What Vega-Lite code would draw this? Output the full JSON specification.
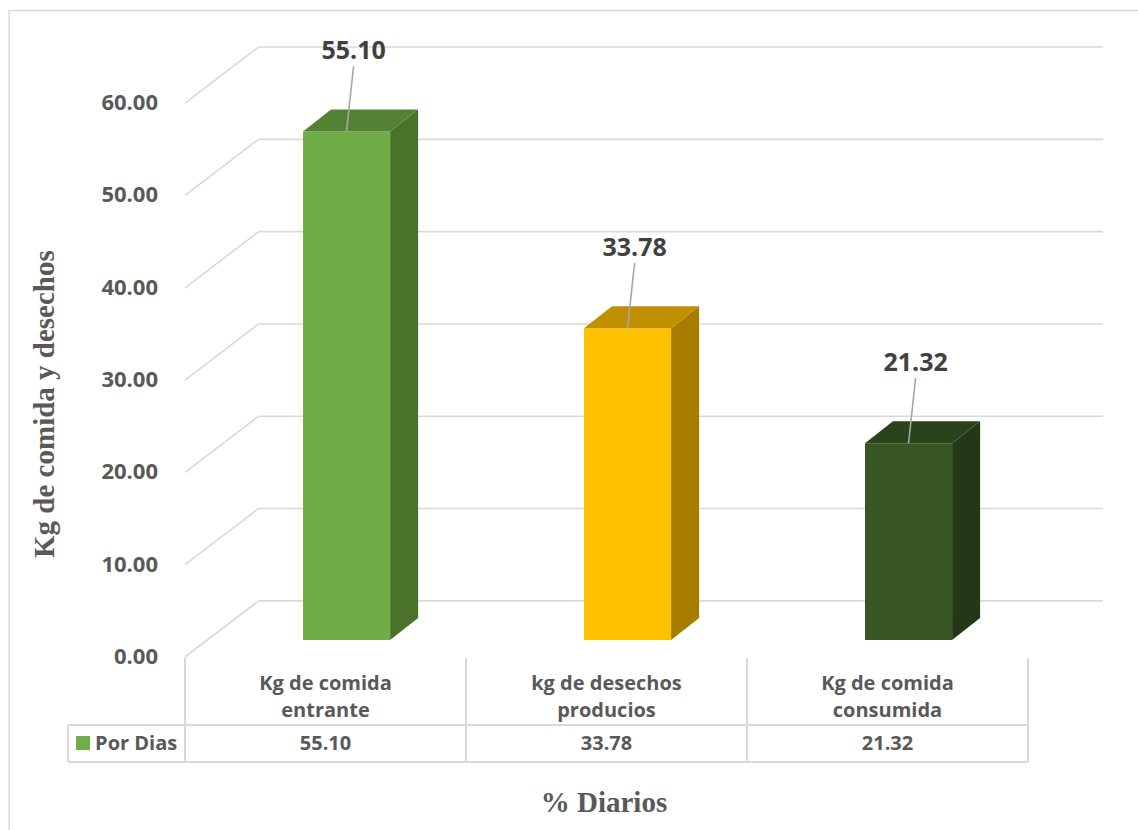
{
  "$schema": "https://vega.github.io/schema/vega-lite/v6.json",
  "width": 918,
  "height": 612,
  "autosize": {"type": "none"},
  "padding": {"left": 185, "top": 45, "right": 35, "bottom": 173},
  "background": "white",
  "config": {"view": {"stroke": null}, "font": "Open Sans", "axis": {"disable": true}},
  "datasets": {
    "por_dias": [
      {"categoria": "Kg de comida entrante", "etiqueta": "Kg de comida\nentrante", "kg": 55.10},
      {"categoria": "kg de desechos producios", "etiqueta": "kg de desechos\nproducios", "kg": 33.78},
      {"categoria": "Kg de comida consumida", "etiqueta": "Kg de comida\nconsumida", "kg": 21.32}
    ],
    "marcas_eje": [{"t": 0}, {"t": 10}, {"t": 20}, {"t": 30}, {"t": 40}, {"t": 50}, {"t": 60}],
    "serie": [{"nombre": "Por Dias"}],
    "titulos": [
      {"eje": "y", "texto": "Kg de comida y desechos"},
      {"eje": "x", "texto": "% Diarios"}
    ]
  },
  "resolve": {"scale": {"color": "independent"}},
  "layer": [
    {
      "description": "outer chart frame",
      "data": {"values": [{}]},
      "mark": {"type": "rule", "color": "#D9D9D9", "strokeWidth": 1.5},
      "encoding": {
        "x": {"datum": -0.626, "type": "quantitative", "scale": {"domain": [0, 3.267], "nice": false, "zero": false}},
        "y": {"datum": 70.04, "type": "quantitative", "scale": {"domain": [0, 66.3], "nice": false, "zero": false}},
        "y2": {"datum": -25}
      }
    },
    {
      "data": {"values": [{}]},
      "mark": {"type": "rule", "color": "#D9D9D9", "strokeWidth": 1.5},
      "encoding": {
        "x": {"datum": -0.626, "type": "quantitative"},
        "x2": {"datum": 3.8},
        "y": {"datum": 70.04, "type": "quantitative"}
      }
    },
    {
      "description": "side-wall grid: slanted segments from the front plane to the back wall",
      "data": {"name": "marcas_eje"},
      "transform": [{"calculate": "datum.t + 6.08", "as": "t_fondo"}],
      "mark": {"type": "rule", "color": "#D9D9D9", "strokeWidth": 1.6},
      "encoding": {
        "x": {"datum": 0, "type": "quantitative"},
        "x2": {"datum": 0.262},
        "y": {"field": "t", "type": "quantitative"},
        "y2": {"field": "t_fondo"}
      }
    },
    {
      "description": "back-wall grid",
      "data": {"name": "marcas_eje"},
      "transform": [{"calculate": "datum.t + 6.08", "as": "t_fondo"}],
      "mark": {"type": "rule", "color": "#D9D9D9", "strokeWidth": 1.6},
      "encoding": {
        "x": {"datum": 0.262, "type": "quantitative"},
        "x2": {"datum": 3.267},
        "y": {"field": "t_fondo", "type": "quantitative"}
      }
    },
    {
      "description": "value-axis tick labels on the front plane",
      "data": {"name": "marcas_eje"},
      "mark": {"type": "text", "font": "Open Sans", "fontWeight": "bold", "fontSize": 22, "color": "#595959", "align": "right", "baseline": "middle", "dx": -27},
      "encoding": {
        "x": {"datum": 0, "type": "quantitative"},
        "y": {"field": "t", "type": "quantitative"},
        "text": {"field": "t", "type": "quantitative", "format": ".2f"}
      }
    },
    {
      "description": "axis titles",
      "data": {"name": "titulos"},
      "transform": [
        {"calculate": "datum.eje === 'y' ? -0.498 : 1.491", "as": "tx"},
        {"calculate": "datum.eje === 'y' ? 27.4 : -15.82", "as": "ty"},
        {"calculate": "datum.eje === 'y' ? 270 : 0", "as": "giro"}
      ],
      "mark": {"type": "text", "font": "Liberation Serif", "fontWeight": "bold", "fontSize": 29, "color": "#595959", "align": "center", "baseline": "middle"},
      "encoding": {
        "x": {"field": "tx", "type": "quantitative"},
        "y": {"field": "ty", "type": "quantitative"},
        "angle": {"field": "giro", "type": "quantitative", "scale": null},
        "text": {"field": "texto"}
      }
    },
    {
      "description": "front face of each column",
      "data": {"name": "por_dias"},
      "transform": [
        {"window": [{"op": "row_number", "as": "n"}]},
        {"calculate": "datum.n - 1", "as": "i"},
        {"calculate": "datum.i + 0.42", "as": "x0"},
        {"calculate": "datum.i + 0.73", "as": "x1"},
        {"calculate": "datum.kg + 1.84", "as": "ytop"}
      ],
      "mark": {"type": "rect"},
      "encoding": {
        "x": {"field": "x0", "type": "quantitative"},
        "x2": {"field": "x1"},
        "y": {"field": "ytop", "type": "quantitative"},
        "y2": {"datum": 1.84},
        "color": {
          "field": "categoria", "type": "nominal", "legend": null,
          "scale": {
            "domain": ["Kg de comida entrante", "kg de desechos producios", "Kg de comida consumida"],
            "range": ["#70AD47", "#FFC000", "#375623"]
          }
        }
      }
    },
    {
      "description": "right side face of each column",
      "data": {"name": "por_dias"},
      "transform": [
        {"window": [{"op": "row_number", "as": "n"}]},
        {"calculate": "datum.n - 1", "as": "i"},
        {"calculate": "[0, 1]", "as": "k"},
        {"flatten": ["k"]},
        {"calculate": "datum.i + 0.73 + datum.k * 0.0996", "as": "sx"},
        {"calculate": "datum.kg + 1.84 + datum.k * 2.38", "as": "sy"},
        {"calculate": "1.84 + datum.k * 2.38", "as": "sy2"}
      ],
      "mark": {"type": "area", "orient": "vertical"},
      "encoding": {
        "x": {"field": "sx", "type": "quantitative"},
        "y": {"field": "sy", "type": "quantitative"},
        "y2": {"field": "sy2"},
        "detail": {"field": "categoria"},
        "color": {
          "field": "categoria", "type": "nominal", "legend": null,
          "scale": {
            "domain": ["Kg de comida entrante", "kg de desechos producios", "Kg de comida consumida"],
            "range": ["#4A7229", "#A67D00", "#243818"]
          }
        }
      }
    },
    {
      "description": "top face of each column",
      "data": {"name": "por_dias"},
      "transform": [
        {"window": [{"op": "row_number", "as": "n"}]},
        {"calculate": "datum.n - 1", "as": "i"},
        {"calculate": "[0, 1]", "as": "k"},
        {"flatten": ["k"]},
        {"calculate": "datum.i + 0.42 + datum.k * 0.0996", "as": "tx0"},
        {"calculate": "datum.i + 0.73 + datum.k * 0.0996", "as": "tx1"},
        {"calculate": "datum.kg + 1.84 + datum.k * 2.38", "as": "ty"}
      ],
      "mark": {"type": "area", "orient": "horizontal"},
      "encoding": {
        "y": {"field": "ty", "type": "quantitative"},
        "x": {"field": "tx0", "type": "quantitative"},
        "x2": {"field": "tx1"},
        "detail": {"field": "categoria"},
        "color": {
          "field": "categoria", "type": "nominal", "legend": null,
          "scale": {
            "domain": ["Kg de comida entrante", "kg de desechos producios", "Kg de comida consumida"],
            "range": ["#548235", "#C09000", "#2B431B"]
          }
        }
      }
    },
    {
      "description": "leader lines from column tops to the value labels",
      "data": {"name": "por_dias"},
      "transform": [
        {"window": [{"op": "row_number", "as": "n"}]},
        {"calculate": "datum.n - 1", "as": "i"},
        {"calculate": "datum.i + 0.575", "as": "lx0"},
        {"calculate": "datum.i + 0.6", "as": "lx1"},
        {"calculate": "datum.kg + 1.84", "as": "ly0"},
        {"calculate": "datum.kg + 8.9", "as": "ly1"}
      ],
      "mark": {"type": "rule", "color": "#A6A6A6", "strokeWidth": 1.6},
      "encoding": {
        "x": {"field": "lx0", "type": "quantitative"},
        "x2": {"field": "lx1"},
        "y": {"field": "ly0", "type": "quantitative"},
        "y2": {"field": "ly1"}
      }
    },
    {
      "description": "value labels above the columns",
      "data": {"name": "por_dias"},
      "transform": [
        {"window": [{"op": "row_number", "as": "n"}]},
        {"calculate": "datum.n - 1 + 0.6", "as": "px"},
        {"calculate": "datum.kg + 10.5", "as": "py"}
      ],
      "mark": {"type": "text", "font": "Open Sans", "fontWeight": "bold", "fontSize": 25, "color": "#404040", "baseline": "middle", "align": "center"},
      "encoding": {
        "x": {"field": "px", "type": "quantitative"},
        "y": {"field": "py", "type": "quantitative"},
        "text": {"field": "kg", "type": "quantitative", "format": ".2f"}
      }
    },
    {
      "description": "data table: column borders",
      "data": {"name": "por_dias"},
      "transform": [
        {"window": [{"op": "row_number", "as": "n"}]},
        {"calculate": "datum.n - 1", "as": "i"}
      ],
      "mark": {"type": "rule", "color": "#D9D9D9", "strokeWidth": 2},
      "encoding": {
        "x": {"field": "i", "type": "quantitative"},
        "y": {"datum": -0.11, "type": "quantitative"},
        "y2": {"datum": -11.37}
      }
    },
    {
      "data": {"values": [{}]},
      "mark": {"type": "rule", "color": "#D9D9D9", "strokeWidth": 2},
      "encoding": {
        "x": {"datum": 3, "type": "quantitative"},
        "y": {"datum": -0.11, "type": "quantitative"},
        "y2": {"datum": -11.37}
      }
    },
    {
      "data": {"values": [{}]},
      "mark": {"type": "rule", "color": "#D9D9D9", "strokeWidth": 2},
      "encoding": {
        "x": {"datum": -0.416, "type": "quantitative"},
        "y": {"datum": -7.37, "type": "quantitative"},
        "y2": {"datum": -11.37}
      }
    },
    {
      "description": "data table: row borders",
      "data": {"values": [{"fila": -7.37}, {"fila": -11.37}]},
      "mark": {"type": "rule", "color": "#D9D9D9", "strokeWidth": 2},
      "encoding": {
        "x": {"datum": -0.416, "type": "quantitative"},
        "x2": {"datum": 3},
        "y": {"field": "fila", "type": "quantitative"}
      }
    },
    {
      "description": "data table: category headers",
      "data": {"name": "por_dias"},
      "transform": [
        {"window": [{"op": "row_number", "as": "n"}]},
        {"calculate": "datum.n - 0.5", "as": "cx"}
      ],
      "mark": {"type": "text", "font": "Open Sans", "fontWeight": "bold", "fontSize": 20, "color": "#595959", "align": "center", "baseline": "middle", "lineBreak": "\n", "lineHeight": 27},
      "encoding": {
        "x": {"field": "cx", "type": "quantitative"},
        "y": {"datum": -2.925, "type": "quantitative"},
        "text": {"field": "etiqueta"}
      }
    },
    {
      "description": "data table: values",
      "data": {"name": "por_dias"},
      "transform": [
        {"window": [{"op": "row_number", "as": "n"}]},
        {"calculate": "datum.n - 0.5", "as": "cx"}
      ],
      "mark": {"type": "text", "font": "Open Sans", "fontWeight": "bold", "fontSize": 20, "color": "#595959", "align": "center", "baseline": "middle"},
      "encoding": {
        "x": {"field": "cx", "type": "quantitative"},
        "y": {"datum": -9.42, "type": "quantitative"},
        "text": {"field": "kg", "type": "quantitative", "format": ".2f"}
      }
    },
    {
      "description": "data table: series key",
      "data": {"name": "serie"},
      "mark": {"type": "square", "filled": true, "size": 196, "color": "#70AD47", "opacity": 1},
      "encoding": {
        "x": {"datum": -0.363, "type": "quantitative"},
        "y": {"datum": -9.32, "type": "quantitative"}
      }
    },
    {
      "data": {"name": "serie"},
      "mark": {"type": "text", "font": "Open Sans", "fontWeight": "bold", "fontSize": 20, "color": "#595959", "align": "left", "baseline": "middle"},
      "encoding": {
        "x": {"datum": -0.32, "type": "quantitative"},
        "y": {"datum": -9.42, "type": "quantitative"},
        "text": {"field": "nombre"}
      }
    }
  ]
}
